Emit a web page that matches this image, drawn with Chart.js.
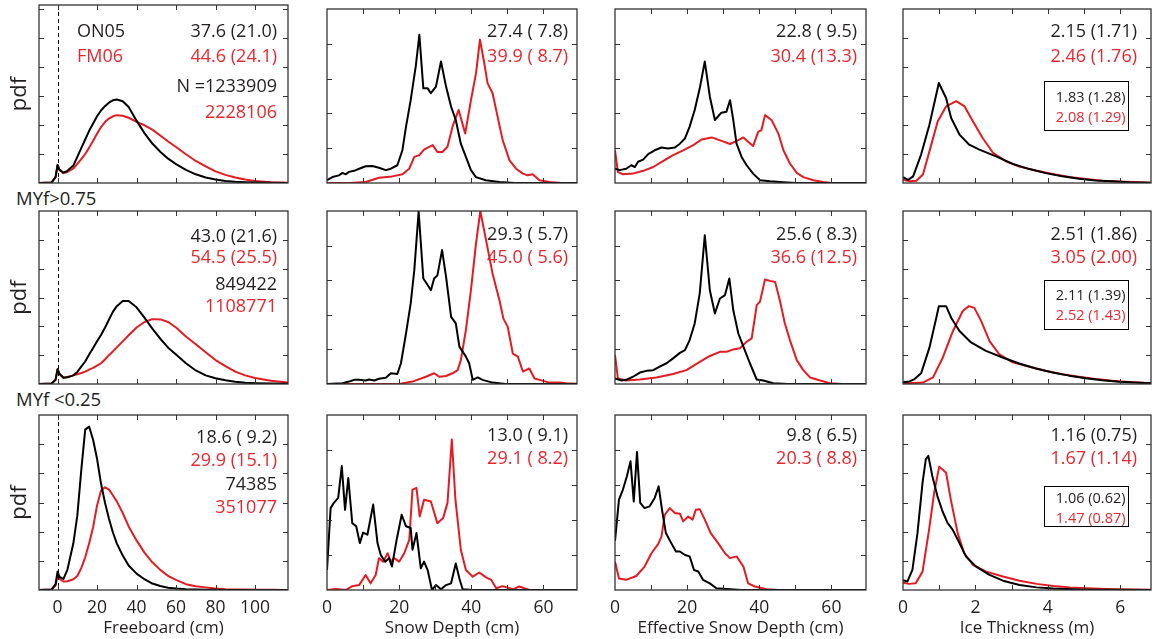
<!DOCTYPE html>
<html>
<head>
<meta charset="utf-8">
<script src="https://cdn.jsdelivr.net/npm/chart.js@4.4.1/dist/chart.umd.min.js"></script>
<style>
  html, body { margin: 0; padding: 0; background: #fff; }
  #figure { position: relative; width: 1156px; height: 639px; overflow: hidden; font-family: 'Open Sans', sans-serif; }
  #figure canvas { position: absolute; }
  .row-label { position: absolute; font-size: 18.5px; line-height: 1; color: #231f20; white-space: nowrap; }
</style>
</head>
<body>
<div id="figure"></div>
<script>
// ---- datos ----
const seasons = ['ON05', 'FM06'];
const rowLabels = ['', 'MYf>0.75', 'MYf <0.25'];
const xTitles = ['Freeboard (cm)', 'Snow Depth (cm)', 'Effective Snow Depth (cm)', 'Ice Thickness (m)'];

const meanBlack = [
  ['37.6 (21.0)', '27.4 ( 7.8)', '22.8 ( 9.5)', '2.15 (1.71)'],
  ['43.0 (21.6)', '29.3 ( 5.7)', '25.6 ( 8.3)', '2.51 (1.86)'],
  ['18.6 ( 9.2)', '13.0 ( 9.1)', '9.8 ( 6.5)', '1.16 (0.75)']
];
const meanRed = [
  ['44.6 (24.1)', '39.9 ( 8.7)', '30.4 (13.3)', '2.46 (1.76)'],
  ['54.5 (25.5)', '45.0 ( 5.6)', '36.6 (12.5)', '3.05 (2.00)'],
  ['29.9 (15.1)', '29.1 ( 8.2)', '20.3 ( 8.8)', '1.67 (1.14)']
];
const countBlack = ['N =1233909', '849422', '74385'];
const countRed = ['2228106', '1108771', '351077'];
const boxBlack = ['1.83 (1.28)', '2.11 (1.39)', '1.06 (0.62)'];
const boxRed = ['2.08 (1.29)', '2.52 (1.43)', '1.47 (0.87)'];

// eje x y marcas
const xRange = [[-9.4, 116.7], [0, 69.3], [0, 69.6], [0, 6.85]];
const xTicks = [[0, 20, 40, 60, 80, 100], [0, 10, 20, 30, 40, 50, 60], [0, 10, 20, 30, 40, 50, 60], [0, 1, 2, 3, 4, 5, 6]];
const xLabelStep = [20, 20, 20, 2];
const yMax = [6, 5, 5, 6];
const yTicks = [[1, 2, 3, 4, 5, 6], [1, 2, 3, 4], [1, 2, 3, 4], [1, 2, 3, 4, 5]];

// Freeboard (rejilla comun)
const fbX = [-10, -3, -1, 0, 1, 3, 5, 8, 10, 12, 14, 16, 18, 20, 22, 24, 26, 28, 30, 33, 36, 40, 44, 48, 52, 56, 60, 65, 70, 75, 80, 85, 90, 95, 100, 108, 117];
const fb1Black = [0, 0.02, 0.2, 0.62, 0.45, 0.36, 0.42, 0.6, 0.9, 1.2, 1.5, 1.8, 2.05, 2.3, 2.5, 2.65, 2.77, 2.85, 2.88, 2.82, 2.62, 2.15, 1.72, 1.36, 1.08, 0.84, 0.65, 0.45, 0.3, 0.19, 0.12, 0.07, 0.04, 0.025, 0.015, 0.01, 0];
const fb1Red = [0, 0.02, 0.2, 0.62, 0.45, 0.34, 0.38, 0.5, 0.66, 0.82, 1.0, 1.22, 1.46, 1.7, 1.93, 2.1, 2.22, 2.3, 2.34, 2.32, 2.25, 2.11, 1.99, 1.84, 1.64, 1.43, 1.24, 0.99, 0.76, 0.57, 0.4, 0.28, 0.19, 0.12, 0.07, 0.03, 0.01];
const fb2Black = [0, 0.02, 0.15, 0.51, 0.35, 0.22, 0.23, 0.3, 0.42, 0.6, 0.78, 1.02, 1.25, 1.48, 1.7, 1.95, 2.23, 2.5, 2.7, 2.88, 2.88, 2.66, 2.3, 1.92, 1.57, 1.26, 1.02, 0.72, 0.47, 0.3, 0.2, 0.13, 0.08, 0.045, 0.03, 0.015, 0.01];
const fb2Red = [0, 0.02, 0.15, 0.51, 0.35, 0.22, 0.24, 0.3, 0.34, 0.38, 0.43, 0.5, 0.56, 0.64, 0.72, 0.85, 1.0, 1.13, 1.27, 1.48, 1.69, 1.96, 2.15, 2.25, 2.24, 2.15, 1.96, 1.65, 1.38, 1.1, 0.83, 0.62, 0.43, 0.3, 0.21, 0.11, 0.05];
const fb3Black = [0, 0.02, 0.2, 0.63, 0.45, 0.38, 0.7, 1.6, 2.55, 4.1, 5.5, 5.6, 5.15, 4.5, 3.65, 3.0, 2.45, 1.98, 1.6, 1.18, 0.84, 0.56, 0.37, 0.22, 0.14, 0.08, 0.05, 0.03, 0.02, 0.01, 0.005, 0, 0, 0, 0, 0, 0];
const fb3Red = [0, 0.02, 0.15, 0.51, 0.38, 0.29, 0.3, 0.37, 0.48, 0.75, 1.12, 1.6, 2.15, 2.9, 3.4, 3.52, 3.45, 3.25, 3.04, 2.64, 2.18, 1.7, 1.28, 0.95, 0.69, 0.48, 0.35, 0.2, 0.13, 0.09, 0.05, 0.03, 0.02, 0.015, 0.01, 0.005, 0];

// Snow depth [cm, pdf]
const sd1Black = [[0, 0.08], [1.5, 0.17], [3.3, 0.22], [4.3, 0.29], [5.2, 0.25], [6.1, 0.32], [7.5, 0.35], [8.9, 0.41], [10.7, 0.48], [12.6, 0.49], [14.4, 0.44], [16.3, 0.37], [17.7, 0.41], [19.5, 0.51], [20.9, 0.94], [21.9, 1.62], [23.2, 2.38], [24.6, 3.35], [25.6, 4.26], [26.7, 2.72], [27.9, 2.72], [28.8, 2.58], [30.2, 2.77], [31.6, 3.49], [33, 2.77], [34.4, 2.19], [35.7, 1.81], [37.1, 1.13], [38.5, 0.75], [39.9, 0.37], [41.3, 0.17], [44, 0.08], [47.8, 0.03], [52, 0], [70, 0]];
const sd1Red = [[0, 0], [6.1, 0], [10.7, 0.03], [14.4, 0.15], [18.1, 0.19], [20.9, 0.25], [22.8, 0.41], [24.2, 0.75], [25.6, 0.8], [26.9, 0.96], [28.3, 1.04], [29.3, 1.09], [30.6, 0.89], [32, 0.89], [33.4, 1.04], [34.8, 1.62], [36.5, 2.1], [38.3, 1.42], [39.9, 2.38], [41.3, 3.15], [42.4, 4.12], [43.6, 3.44], [44.5, 2.87], [45.9, 2.58], [47.3, 1.9], [48.7, 1.23], [50.6, 0.65], [52.4, 0.41], [54.3, 0.27], [55.6, 0.22], [57, 0.25], [58.9, 0.08], [61.7, 0.03], [65, 0], [70, 0]];
const sd2Black = [[0, 0], [4.3, 0.02], [6.1, 0.07], [7.5, 0.12], [8.9, 0.12], [10.7, 0.1], [11.7, 0.13], [13.1, 0.1], [14.4, 0.15], [16.3, 0.18], [17.7, 0.31], [19.5, 0.29], [20.5, 0.6], [21.9, 1.46], [23.2, 2.33], [24.2, 3.29], [25.4, 4.98], [26.7, 3.05], [27.9, 2.86], [28.8, 2.71], [29.7, 3.05], [30.6, 3.14], [31.9, 3.87], [33, 3.1], [34.4, 1.94], [35.7, 1.75], [36.7, 1.08], [38.5, 0.79], [39.4, 0.6], [40.4, 0.12], [41.8, 0.19], [43.1, 0.12], [45.9, 0.04], [49.5, 0], [70, 0]];
const sd2Red = [[0, 0], [20, 0], [23.7, 0.07], [27.4, 0.21], [29.7, 0.31], [31.1, 0.21], [33, 0.23], [34.8, 0.31], [36.2, 0.4], [37.1, 0.69], [38.5, 1.56], [39.9, 2.71], [41.3, 4.06], [42.5, 5.0], [44.1, 4.15], [45.9, 3.19], [47.8, 2.42], [48.9, 1.89], [50.1, 1.65], [51.5, 0.88], [52.9, 0.79], [54.3, 0.36], [56.1, 0.45], [57.5, 0.16], [58.9, 0.12], [61.7, 0.04], [64.4, 0.04], [66.3, 0.02], [70, 0]];
const sd3Black = [[0, 0.57], [1, 2.34], [1.9, 2.49], [3.1, 2.63], [4.1, 3.54], [5, 2.29], [5.9, 3.2], [7, 1.91], [8.1, 1.82], [9.1, 1.34], [10, 1.64], [11.2, 1.58], [12.8, 2.44], [14, 1.34], [14.9, 1.0], [16.1, 0.81], [17.2, 0.91], [18, 0.67], [19.3, 1.43], [20.7, 2.15], [21.9, 1.82], [23.2, 1.77], [23.7, 1.15], [24.8, 1.63], [26, 0.62], [26.9, 0.81], [27.9, 0.57], [29.1, 0], [30.2, 0.14], [31.6, 0.02], [33, 0.14], [34.4, 0.19], [35.7, 0.76], [36.7, 0.33], [37.6, 0.02], [40.4, 0], [70, 0]];
const sd3Red = [[0, 0], [2.4, 0.03], [5.2, 0], [7, 0.11], [8.9, 0.14], [10.7, 0.43], [12.1, 0.19], [13.5, 0.43], [14.4, 0.91], [15.6, 0.81], [16.8, 1.05], [17.7, 0.81], [18.6, 0.91], [20, 0.81], [21.4, 1.05], [22.8, 1.43], [23.7, 2.87], [24.8, 2.92], [25.7, 2.1], [26.9, 2.58], [28.8, 2.53], [30.6, 1.91], [32.2, 2.06], [33.4, 2.49], [34.6, 4.3], [35.6, 2.58], [37.1, 1.15], [38.5, 0.57], [40.4, 0.38], [42.2, 0.5], [44.1, 0.36], [45.5, 0.29], [46.9, 0.05], [48.7, 0.11], [51.5, 0.02], [53.3, 0.1], [56.1, 0], [70, 0]];

// Effective snow depth [cm, pdf]
const esd1Black = [[0, 0.41], [1.3, 0.37], [3.1, 0.41], [4.5, 0.51], [5.5, 0.46], [6.4, 0.61], [7.8, 0.67], [9.2, 0.83], [11, 0.94], [12.9, 1.02], [14.7, 0.99], [16.6, 1.02], [18, 1.13], [19.4, 1.28], [20.7, 1.62], [22.1, 2.1], [23.5, 2.72], [24.9, 3.49], [26.3, 2.48], [27.7, 1.81], [29.5, 2.02], [30.9, 2.05], [31.9, 2.38], [32.8, 1.81], [33.7, 1.13], [35.1, 0.75], [36.5, 0.51], [38.3, 0.27], [40.2, 0.08], [43, 0.05], [46.7, 0.02], [50, 0], [70, 0]];
const esd1Red = [[0, 0.94], [0.8, 0.32], [2.2, 0.25], [5, 0.27], [7.8, 0.35], [10.6, 0.46], [13.3, 0.63], [16.1, 0.8], [18.9, 0.94], [21.7, 1.09], [24, 1.25], [26.8, 1.31], [29.5, 1.21], [31.9, 1.12], [34.2, 1.23], [35.6, 1.31], [37, 1.18], [38.3, 1.06], [39.7, 1.47], [40.6, 1.52], [41.6, 1.95], [43.4, 1.81], [45.3, 1.42], [46.7, 0.94], [48.5, 0.56], [50.4, 0.29], [52.2, 0.17], [55, 0.08], [57.8, 0.03], [60, 0], [70, 0]];
const esd2Black = [[0, 0.16], [1.8, 0.1], [3.1, 0.12], [5, 0.21], [6.9, 0.33], [8.7, 0.38], [10.6, 0.4], [12.4, 0.5], [14.3, 0.6], [16.1, 0.74], [18, 0.9], [19.4, 0.98], [20.7, 1.27], [22.1, 1.75], [23.5, 2.62], [24.9, 4.3], [26.3, 2.71], [27.7, 2.04], [29.1, 2.47], [30.5, 2.57], [31.7, 3.05], [32.8, 2.13], [34.2, 1.46], [35.6, 1.08], [37.4, 0.6], [39.3, 0.13], [41.1, 0.1], [43.9, 0.02], [48, 0], [70, 0]];
const esd2Red = [[0, 0.84], [0.8, 0.16], [3.1, 0.1], [6.9, 0.13], [11.5, 0.19], [16.1, 0.29], [19.8, 0.4], [23.5, 0.64], [26.3, 0.81], [29.1, 0.93], [30.9, 0.93], [32.8, 1.0], [34.6, 1.03], [36.5, 1.22], [37.9, 1.32], [39.3, 2.28], [40.2, 2.38], [41.6, 3.02], [43, 2.98], [44.4, 2.95], [45.7, 2.42], [47.1, 1.75], [48.5, 1.27], [50.4, 0.69], [52.2, 0.4], [54.1, 0.19], [56.9, 0.1], [59.6, 0.02], [63, 0], [70, 0]];
const esd3Black = [[0, 1.4], [1.1, 2.58], [2.2, 2.87], [3.3, 3.25], [4.3, 3.68], [5.2, 2.53], [6.1, 3.94], [7, 2.49], [8.2, 2.34], [9.6, 2.39], [11, 2.63], [12.1, 2.96], [13.1, 2.25], [14.1, 1.63], [15.6, 1.34], [16.9, 1.1], [18, 1.1], [19.4, 1.0], [20.7, 0.96], [21.9, 0.57], [23.1, 0.53], [24.4, 0.29], [26.3, 0.19], [28.1, 0.05], [31.9, 0.02], [35, 0], [70, 0]];
const esd3Red = [[0, 0.81], [1.1, 0.33], [3.1, 0.29], [5.9, 0.4], [8.2, 0.67], [10.1, 1.05], [12, 1.32], [12.9, 1.53], [13.8, 2.15], [15.2, 2.34], [16.6, 2.2], [18, 2.18], [18.9, 1.96], [20.3, 2.1], [21.5, 2.01], [22.4, 2.29], [23.5, 2.31], [24.9, 2.01], [26.5, 1.63], [28.6, 1.34], [30.5, 1.05], [31.9, 0.91], [33.7, 0.96], [35.6, 0.67], [36.9, 0.19], [38.8, 0.1], [42, 0.02], [45, 0], [70, 0]];

// Ice thickness [m, pdf]
const it1Black = [[0, 0.2], [0.14, 0.11], [0.28, 0.23], [0.5, 0.98], [0.73, 2.01], [0.99, 3.45], [1.19, 2.93], [1.33, 2.24], [1.56, 1.67], [1.83, 1.32], [2.11, 1.15], [2.57, 0.92], [3.03, 0.66], [3.49, 0.48], [3.94, 0.34], [4.4, 0.23], [4.86, 0.15], [5.32, 0.09], [5.78, 0.06], [6.24, 0.03], [6.85, 0.01]];
const it1Red = [[0, 0.11], [0.18, 0.06], [0.37, 0.08], [0.55, 0.29], [0.73, 1.09], [0.96, 2.13], [1.19, 2.64], [1.47, 2.82], [1.7, 2.64], [1.93, 2.13], [2.2, 1.55], [2.48, 1.05], [2.84, 0.75], [3.21, 0.57], [3.67, 0.43], [4.13, 0.31], [4.59, 0.21], [5.05, 0.14], [5.5, 0.08], [5.96, 0.05], [6.85, 0.01]];
const it2Black = [[0, 0.06], [0.18, 0.09], [0.32, 0.17], [0.5, 0.37], [0.73, 1.26], [0.92, 2.3], [0.99, 2.7], [1.19, 2.7], [1.33, 2.3], [1.56, 1.84], [1.88, 1.44], [2.29, 1.15], [2.75, 0.92], [3.21, 0.71], [3.67, 0.54], [4.13, 0.4], [4.59, 0.29], [5.05, 0.2], [5.5, 0.13], [5.96, 0.08], [6.85, 0.03]];
const it2Red = [[0, 0.02], [0.55, 0.05], [0.83, 0.23], [1.1, 0.92], [1.38, 1.84], [1.65, 2.53], [1.82, 2.7], [1.97, 2.64], [2.16, 2.18], [2.39, 1.49], [2.66, 1.03], [3.03, 0.75], [3.49, 0.6], [3.94, 0.46], [4.4, 0.34], [4.86, 0.25], [5.32, 0.17], [5.78, 0.11], [6.24, 0.07], [6.85, 0.03]];
const it3Black = [[0, 0.34], [0.12, 0.29], [0.26, 0.69], [0.4, 1.95], [0.54, 3.68], [0.63, 4.48], [0.7, 4.6], [0.81, 3.91], [0.95, 3.22], [1.09, 2.7], [1.23, 2.3], [1.37, 2.07], [1.56, 1.61], [1.74, 1.15], [2.02, 0.8], [2.39, 0.52], [2.76, 0.32], [3.22, 0.17], [3.69, 0.09], [4.15, 0.05], [4.89, 0.02], [6.85, 0]];
const it3Red = [[0, 0.25], [0.17, 0.21], [0.35, 0.23], [0.54, 0.63], [0.72, 2.07], [0.86, 3.33], [1.0, 4.23], [1.19, 4.02], [1.32, 3.1], [1.51, 1.95], [1.69, 1.26], [1.93, 0.86], [2.3, 0.63], [2.76, 0.46], [3.22, 0.32], [3.69, 0.21], [4.15, 0.14], [4.61, 0.09], [5.07, 0.06], [5.81, 0.03], [6.85, 0.01]];

// ---- disposicion de los paneles (pixeles de pagina) ----
const colLeft = [39, 327, 615, 903];
const colRight = [288, 577, 866, 1151];
const rowTop = [9, 211, 415];
const rowBottom = [183, 384, 590];

const INK = '#231f20';
const RED = '#e5282f';
const LINE_BLACK = '#000000';
const LINE_RED = '#e31b23';

const zip = (xs, ys) => xs.map((x, i) => ({ x: x, y: ys[i] }));
const pairs = p => p.map(([x, y]) => ({ x: x, y: y }));

const series = [
  [[zip(fbX, fb1Black), zip(fbX, fb1Red)], [pairs(sd1Black), pairs(sd1Red)], [pairs(esd1Black), pairs(esd1Red)], [pairs(it1Black), pairs(it1Red)]],
  [[zip(fbX, fb2Black), zip(fbX, fb2Red)], [pairs(sd2Black), pairs(sd2Red)], [pairs(esd2Black), pairs(esd2Red)], [pairs(it2Black), pairs(it2Red)]],
  [[zip(fbX, fb3Black), zip(fbX, fb3Red)], [pairs(sd3Black), pairs(sd3Red)], [pairs(esd3Black), pairs(esd3Red)], [pairs(it3Black), pairs(it3Red)]]
];

// Marco, marcas hacia dentro, linea discontinua y textos
const framePlugin = {
  id: 'frame',
  afterDatasetsDraw(chart, args, opts) {
    const { ctx, chartArea: a, scales: { x, y } } = chart;
    ctx.save();

    if (opts.zeroLine) {
      const px = Math.round(x.getPixelForValue(0)) + 0.5;
      ctx.strokeStyle = '#000';
      ctx.lineWidth = 1;
      ctx.setLineDash([4, 3]);
      ctx.beginPath();
      ctx.moveTo(px, a.top);
      ctx.lineTo(px, a.bottom);
      ctx.stroke();
      ctx.setLineDash([]);
    }

    ctx.strokeStyle = '#333';
    ctx.lineWidth = 1.3;
    ctx.strokeRect(a.left, a.top, a.right - a.left, a.bottom - a.top);

    const len = 5;
    ctx.lineWidth = 1;
    ctx.beginPath();
    x.ticks.forEach(t => {
      if (t.value <= x.min || t.value >= x.max) return;
      const px = Math.round(x.getPixelForValue(t.value)) + 0.5;
      ctx.moveTo(px, a.top); ctx.lineTo(px, a.top + len);
      ctx.moveTo(px, a.bottom); ctx.lineTo(px, a.bottom - len);
    });
    y.ticks.forEach(t => {
      if (t.value <= y.min || t.value >= y.max) return;
      const py = Math.round(y.getPixelForValue(t.value)) + 0.5;
      ctx.moveTo(a.left, py); ctx.lineTo(a.left + len, py);
      ctx.moveTo(a.right, py); ctx.lineTo(a.right - len, py);
    });
    ctx.stroke();

    // textos
    ctx.textBaseline = 'middle';
    (opts.notes || []).forEach(n => {
      ctx.font = n.size + "px 'Open Sans', sans-serif";
      ctx.fillStyle = n.color;
      if (n.left !== undefined) {
        ctx.textAlign = 'left';
        ctx.fillText(n.text, a.left + n.left, a.top + n.dy);
      } else {
        ctx.textAlign = 'right';
        ctx.fillText(n.text, a.right - n.right, a.top + n.dy);
      }
    });

    if (opts.box) {
      const b = opts.box;
      const bx = Math.round(a.right - b.right - b.width) + 0.5;
      const by = Math.round(a.top + b.top) + 0.5;
      ctx.strokeStyle = '#000';
      ctx.lineWidth = 1;
      ctx.strokeRect(bx, by, b.width, b.height);
      ctx.font = "14.5px 'Open Sans', sans-serif";
      ctx.textAlign = 'right';
      ctx.fillStyle = INK;
      ctx.fillText(b.lines[0], bx + b.width - 3, by + b.dy[0]);
      ctx.fillStyle = RED;
      ctx.fillText(b.lines[1], bx + b.width - 3, by + b.dy[1]);
    }
    ctx.restore();
  }
};

const fig = document.getElementById('figure');

rowLabels.forEach((txt, r) => {
  if (!txt) return;
  const d = document.createElement('div');
  d.className = 'row-label';
  d.textContent = txt;
  d.style.left = '16px';
  d.style.top = (r === 1 ? 189 : 390) + 'px';
  fig.appendChild(d);
});

const noteDyFirst = [[27, 52, 82, 108], [26, 47, 74, 96], [23, 46, 70, 93]];
const noteDyOther = [[23, 48], [24, 47], [21, 44]];
const rightInset = [11, 9, 9, 14];
const boxTop = [72, 69, 71];
const boxHeight = [49, 49, 40];
const boxTextDy = [[16, 36], [15, 35], [12, 32]];

function buildNotes(r, c) {
  const dys = c === 0 ? noteDyFirst[r] : noteDyOther[r];
  const notes = [
    { text: meanBlack[r][c], color: INK, right: rightInset[c], dy: dys[0], size: 18 },
    { text: meanRed[r][c], color: RED, right: rightInset[c], dy: dys[1], size: 18 }
  ];
  if (c === 0) {
    notes.push({ text: countBlack[r], color: INK, right: rightInset[c], dy: dys[2], size: 18 });
    notes.push({ text: countRed[r], color: RED, right: rightInset[c], dy: dys[3], size: 18 });
    if (r === 0) {
      notes.push({ text: seasons[0], color: INK, left: 38, dy: dys[0], size: 18 });
      notes.push({ text: seasons[1], color: RED, left: 38, dy: dys[1], size: 18 });
    }
  }
  return notes;
}

function createPanel(r, c) {
  const left = colLeft[c];
  const right = colRight[c];
  const top = (r === 0 && c === 0) ? 5 : rowTop[r];
  const bottom = rowBottom[r];
  const showX = r === 2;
  const showY = c === 0;
  const padL = showY ? 0 : 10;

  const cl = left - (showY ? left : padL);
  const ct = top - 3;
  const cr = right + 10;
  const cb = showX ? 639 : bottom + 3;

  const canvas = document.createElement('canvas');
  canvas.width = cr - cl;
  canvas.height = cb - ct;
  canvas.style.left = cl + 'px';
  canvas.style.top = ct + 'px';
  fig.appendChild(canvas);

  const ymax = (r === 0 && c === 0) ? (bottom - top) / 29 : yMax[c];

  new Chart(canvas, {
    type: 'line',
    data: {
      datasets: [
        { data: series[r][c][0], borderColor: LINE_BLACK, borderWidth: 2 },
        { data: series[r][c][1], borderColor: LINE_RED, borderWidth: 2 }
      ]
    },
    options: {
      responsive: false,
      animation: false,
      events: [],
      layout: { padding: { left: padL, top: 3, right: 10, bottom: showX ? 0 : 3 } },
      elements: { point: { radius: 0 }, line: { tension: 0, borderJoinStyle: 'round' } },
      scales: {
        x: {
          type: 'linear',
          min: xRange[c][0],
          max: xRange[c][1],
          display: showX,
          grid: { display: false, drawTicks: false },
          border: { display: false },
          afterBuildTicks: axis => { axis.ticks = xTicks[c].map(v => ({ value: v })); },
          afterFit: axis => {
            if (!showX) return;
            axis.height = cb - bottom;
            axis.paddingLeft = 0;
            axis.paddingRight = 0;
          },
          ticks: {
            padding: 8,
            color: INK,
            font: { family: "'Open Sans', sans-serif", size: 17.5 },
            maxRotation: 0,
            autoSkip: false,
            callback: v => (v % xLabelStep[c] === 0 ? String(v) : '')
          },
          title: {
            display: true,
            text: xTitles[c],
            color: INK,
            font: { family: "'Open Sans', sans-serif", size: 17 },
            padding: { top: 0, bottom: 1 }
          }
        },
        y: {
          min: 0,
          max: ymax,
          display: showY,
          grid: { display: false, drawTicks: false },
          border: { display: false },
          afterBuildTicks: axis => { axis.ticks = yTicks[c].map(v => ({ value: v })); },
          afterFit: axis => { if (showY) axis.width = left; },
          ticks: { display: false },
          title: {
            display: true,
            text: 'pdf',
            color: INK,
            font: { family: "'Open Sans', sans-serif", size: 22 },
            padding: { top: 7, bottom: 0 }
          }
        }
      },
      plugins: {
        legend: { display: false },
        tooltip: { enabled: false },
        frame: {
          zeroLine: c === 0,
          notes: buildNotes(r, c),
          box: c === 3 ? {
            lines: [boxBlack[r], boxRed[r]],
            right: 23, width: 84, top: boxTop[r], height: boxHeight[r], dy: boxTextDy[r]
          } : null
        }
      }
    },
    plugins: [framePlugin]
  });
}

for (let r = 0; r < 3; r++) {
  for (let c = 0; c < 4; c++) {
    createPanel(r, c);
  }
}
</script>
</body>
</html>
